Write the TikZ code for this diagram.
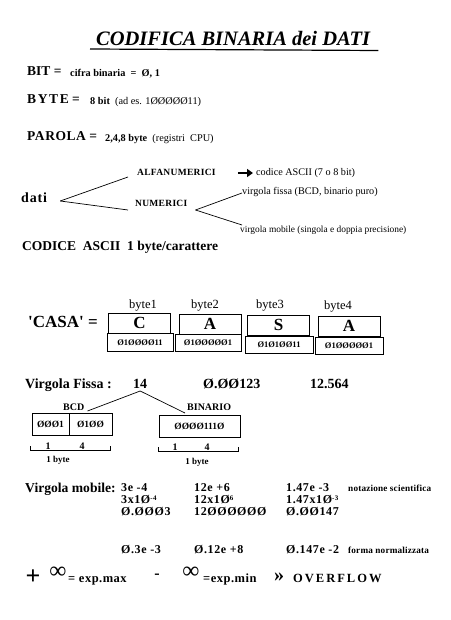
\documentclass[tikz,border=0pt]{standalone}
\usepackage{fontspec}
\setmainfont{Liberation Serif}
\usetikzlibrary{arrows.meta}
\newcommand\fs[1]{\fontsize{#1}{#1}\selectfont}
\newcommand\lsp[1]{\addfontfeature{LetterSpace=#1}}
\newcommand\expo[1]{\raisebox{2.6pt}{\fs{7}#1}}
\begin{document}
\begin{tikzpicture}[x=1pt,y=-1pt,
  txt/.style={inner sep=0pt,anchor=base west},
  ctr/.style={inner sep=0pt,anchor=base},
  big/.style={txt,font=\fs{13.5}\bfseries},
  sm/.style={txt,font=\fs{10.3}\bfseries},
  med/.style={txt,font=\fs{14}\bfseries},
  lbl/.style={txt,font=\fs{9.5}\bfseries\lsp{3}},
  note/.style={txt,font=\fs{9.4}},
  ubox/.style={draw,line width=0.8pt,inner sep=0pt,minimum width=62pt,minimum height=20pt,font=\fs{17}\bfseries},
  lbox/.style={draw,line width=0.8pt,inner sep=0pt,minimum width=66pt,minimum height=17.5pt,font=\fs{8.5}\bfseries},
  fbox/.style={draw,line width=0.8pt,inner sep=0pt,minimum height=22pt,font=\fs{9.5}\bfseries},
  conn/.style={line width=0.7pt},
  brk/.style={line width=0.7pt},
  num/.style={txt,font=\fs{14}\bfseries},
  mnum/.style={txt,font=\fs{12}\bfseries\lsp{5}},
  tiny/.style={txt,font=\fs{9.2}\bfseries\lsp{2}},
]
\useasboundingbox[fill=white] (0,0) rectangle (450,620);

% title
\node[txt,font=\fs{20.5}\bfseries\itshape] (title) at (96,46) {CODIFICA BINARIA dei DATI};
\draw[line width=1.2pt] ([xshift=-6pt,yshift=-3pt]title.base west) -- ([xshift=8pt,yshift=-4.5pt]title.base east);

% definitions
\node[big] (bit) at (27,76) {BIT =};
\node[sm] (bitdef) at (70,77) {cifra binaria\ \ =\ \ Ø, 1};
\node[big] (byte) at (27,104) {{\lsp{12}BYTE} =};
\node[sm] (bytedef) at (90,105) {8 bit\ \ {\mdseries(ad es. 1ØØØØØ11)}};
\node[big] (parola) at (27,141) {{\lsp{4}PAROLA} =};
\node[sm] (paroladef) at (105,142) {2,4,8 byte\ \ {\mdseries(registri\ \ CPU)}};

% tree of data
\node[med] (dati) at (21,203) {{\lsp{6}dati}};
\node[lbl] (alfa) at (137,176) {ALFANUMERICI};
\node[txt,font=\fs{10.2}] (ascii) at (256,176) {codice ASCII (7 o 8 bit)};
\node[lbl] (numer) at (135,207) {NUMERICI};
\node[note,font=\fs{10.2}] (fissa) at (242,195) {virgola fissa (BCD, binario puro)};
\node[note] (mobile) at (240,232) {virgola mobile (singola e doppia precisione)};
\draw[conn] ([xshift=13pt,yshift=2pt]dati.base east) -- ([xshift=-9pt,yshift=-1pt]alfa.base west);
\draw[conn] ([xshift=13pt,yshift=2pt]dati.base east) -- ([xshift=-7pt,yshift=-3pt]numer.base west);
\draw[conn] ([xshift=8pt,yshift=-3pt]numer.base east) -- ([xshift=0pt,yshift=2pt]fissa.base west);
\draw[conn] ([xshift=8pt,yshift=-3pt]numer.base east) -- ([xshift=2pt,yshift=7pt]mobile.base west);
\draw[line width=2.8pt,-{Triangle[length=6pt,width=8pt]}] ([xshift=22pt,yshift=3pt]alfa.base east) -- ([xshift=-3pt,yshift=3pt]ascii.base west);

\node[txt,font=\fs{13.5}\bfseries] (codascii) at (22,250) {CODICE\ \ ASCII\ \ 1 byte/carattere};

% CASA
\node[txt,font=\fs{17}\bfseries] (casa) at (28,327) {\textquotesingle CASA\textquotesingle\ =};
\node[ubox] (u1) at (139.5,323) {C};
\node[ubox] (u2) at (210,324) {A};
\node[ubox] (u3) at (278.5,325) {S};
\node[ubox] (u4) at (349,326) {A};
\node[ctr,font=\fs{12.5}] (b1) at (143,308) {byte1};
\node[ctr,font=\fs{12.5}] (b2) at (205,308) {byte2};
\node[ctr,font=\fs{12.5}] (b3) at (270,308) {byte3};
\node[ctr,font=\fs{12.5}] (b4) at (338,309) {byte4};
\node[lbox] (l1) at (140,342.5) {Ø1ØØØØ11};
\node[lbox] (l2) at (208,343) {Ø1ØØØØØ1};
\node[lbox,minimum width=68pt] (l3) at (279,345) {Ø1Ø1ØØ11};
\node[lbox,minimum width=68pt] (l4) at (349,346) {Ø1ØØØØØ1};

% virgola fissa
\node[num] (vf) at (25,388) {Virgola Fissa :};
\node[num] (n14) at (133,388) {14};
\node[num] (n2) at (203,388) {Ø.ØØ123};
\node[num] (n3) at (310,388) {12.564};
\node[txt,font=\fs{10}\bfseries] (bcdl) at (63,410) {BCD};
\node[txt,font=\fs{10}\bfseries] (binl) at (187,410) {BINARIO};
\draw[conn] ([yshift=-3pt]n14.base) -- ([xshift=3pt,yshift=-1pt]bcdl.base east);
\draw[conn] ([yshift=-3pt]n14.base) -- ([xshift=-2pt,yshift=-3pt]binl.base west);
\node[fbox,minimum width=37pt] (bcd1) at (50.5,424) {ØØØ1};
\node[fbox,minimum width=43pt] (bcd2) at (90.5,424) {Ø1ØØ};
\node[fbox,minimum width=81pt] (bin) at (199.5,426) {ØØØØ111Ø};
% brackets
\draw[brk] (30,446) -- (30,450) -- (110,450) -- (110,446);
\draw[brk] (158,447) -- (158,451) -- (238,451) -- (238,447);
\node[ctr,font=\fs{10}\bfseries] (d1) at (48,449) {1};
\node[ctr,font=\fs{10}\bfseries] (d4) at (82,449) {4};
\node[ctr,font=\fs{10}\bfseries] (e1) at (175,450) {1};
\node[ctr,font=\fs{10}\bfseries] (e4) at (207,450) {4};
\node[ctr,font=\fs{9}\bfseries] (by1) at (58,462) {1 byte};
\node[ctr,font=\fs{9}\bfseries] (by2) at (197,464) {1 byte};

% virgola mobile
\node[txt,font=\fs{13.6}\bfseries] (vm) at (25,492) {Virgola mobile:};
\node[mnum] (a1) at (121,491) {3e -4};
\node[mnum] (a2) at (121,503) {3x1Ø\expo{-4}};
\node[mnum] (a3) at (121,515) {Ø.ØØØ3};
\node[mnum] (c1) at (194,491) {12e +6};
\node[mnum] (c2) at (194,503) {12x1Ø\expo{6}};
\node[mnum] (c3) at (194,515) {12ØØØØØØ};
\node[mnum] (f1) at (286,491) {1.47e -3};
\node[mnum] (f2) at (286,503) {1.47x1Ø\expo{-3}};
\node[mnum] (f3) at (286,515) {Ø.ØØ147};
\node[tiny] (ns) at (348,491) {notazione scientifica};
\node[mnum] (g1) at (121,553) {Ø.3e -3};
\node[mnum] (g2) at (194,553) {Ø.12e +8};
\node[mnum] (g3) at (286,553) {Ø.147e -2};
\node[tiny] (fn) at (348,553) {forma normalizzata};

% overflow row
\node[inner sep=0pt,font=\fs{26}\bfseries] (plus) at (33,577) {+};
\node[ctr,font=\fs{24}] (inf1) at (58,578) {∞};
\node[txt,font=\fs{12.5}\bfseries\lsp{4}] (emax) at (68,582) {= exp.max};
\node[inner sep=0pt,font=\fs{16}\bfseries] (minus) at (157,576) {-};
\node[ctr,font=\fs{24}] (inf2) at (191,578) {∞};
\node[txt,font=\fs{12.5}\bfseries\lsp{4}] (emin) at (203,582) {=exp.min};
\node[ctr,font=\fs{20}\bfseries] (gg) at (279,581) {»};
\node[txt,font=\fs{12.5}\bfseries\lsp{16}] (ovf) at (293,582) {OVERFLOW};
\end{tikzpicture}
\end{document}
